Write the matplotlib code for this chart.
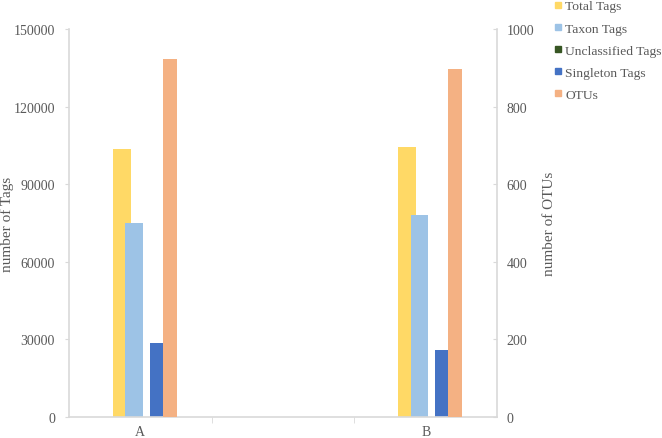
import matplotlib.pyplot as plt
import numpy as np
from matplotlib.lines import Line2D

plt.rcParams["font.family"] = ["Liberation Serif", "DejaVu Serif"]

categories = ["A", "", "B"]
total_tags = [103800, 0, 104200]
taxon_tags = [75000, 0, 78100]
unclassified_tags = [0, 0, 0]
singleton_tags = [28600, 0, 25900]
otus = [922, 0, 898]

series_names = ["Total Tags", "Taxon Tags", "Unclassified Tags", "Singleton Tags", "OTUs"]
colors = ["#FFD966", "#9DC3E6", "#375623", "#4472C4", "#F4B183"]
text_color = "#595959"
axis_color = "#D9D9D9"

fig = plt.figure(figsize=(6.62, 4.39), dpi=100)
ax = fig.add_axes([69 / 662, 21 / 439, 428 / 662, 388 / 439])
ax2 = ax.twinx()

x = np.arange(len(categories))
bar_w = 0.126
step = 0.0863
primary = [total_tags, taxon_tags, unclassified_tags, singleton_tags]
offsets = [-1.5 * step, -0.5 * step, 0.5 * step, 1.5 * step]
for vals, off, col in zip(primary, offsets, colors[:4]):
    ax.bar(x + off, vals, width=bar_w, color=col, zorder=2)
ax2.bar(x + 0.208, otus, width=0.098, color=colors[4], zorder=2)

ax.set_xlim(-0.5, 2.5)
ax.set_ylim(0, 150000)
ax.set_yticks(np.arange(0, 150001, 30000))
ax2.set_ylim(0, 1000)
ax2.set_yticks(np.arange(0, 1001, 200))

ax.set_xticks(x)
ax.set_xticklabels(categories)
ax.set_xticks([0.5, 1.5], minor=True)
ax.tick_params(axis="x", which="major", length=0, pad=6, labelsize=10, labelcolor=text_color)
ax.tick_params(axis="x", which="minor", length=4, color=axis_color, direction="out")
ax.tick_params(axis="y", length=3, color=axis_color, labelsize=10, labelcolor=text_color, pad=7)
ax2.tick_params(axis="y", length=3, color=axis_color, labelsize=10, labelcolor=text_color,
                pad=7, direction="in")

for a in (ax, ax2):
    a.spines["top"].set_visible(False)
    for s in ("left", "right", "bottom"):
        a.spines[s].set_color(axis_color)
        a.spines[s].set_linewidth(1.2)
ax2.spines["left"].set_visible(False)
ax2.spines["bottom"].set_visible(False)
ax.spines["right"].set_visible(False)

ax.set_ylabel("number of Tags", fontsize=11, color=text_color)
ax.yaxis.set_label_coords(-0.128, 0.5)
ax2.set_ylabel("number of OTUs", fontsize=11, color=text_color)
ax2.yaxis.set_label_coords(1.107, 0.5)

handles = [Line2D([], [], marker="s", linestyle="none", markersize=5,
                  markerfacecolor=c, markeredgecolor=c) for c in colors]
fig.legend(handles, series_names, loc="upper left", bbox_to_anchor=(549 / 662, 1.01),
           frameon=False, fontsize=9.7, handlelength=0.6, handletextpad=0.2,
           labelspacing=0.72, borderaxespad=0, labelcolor=text_color)

fig.savefig("out.png", dpi=100)
